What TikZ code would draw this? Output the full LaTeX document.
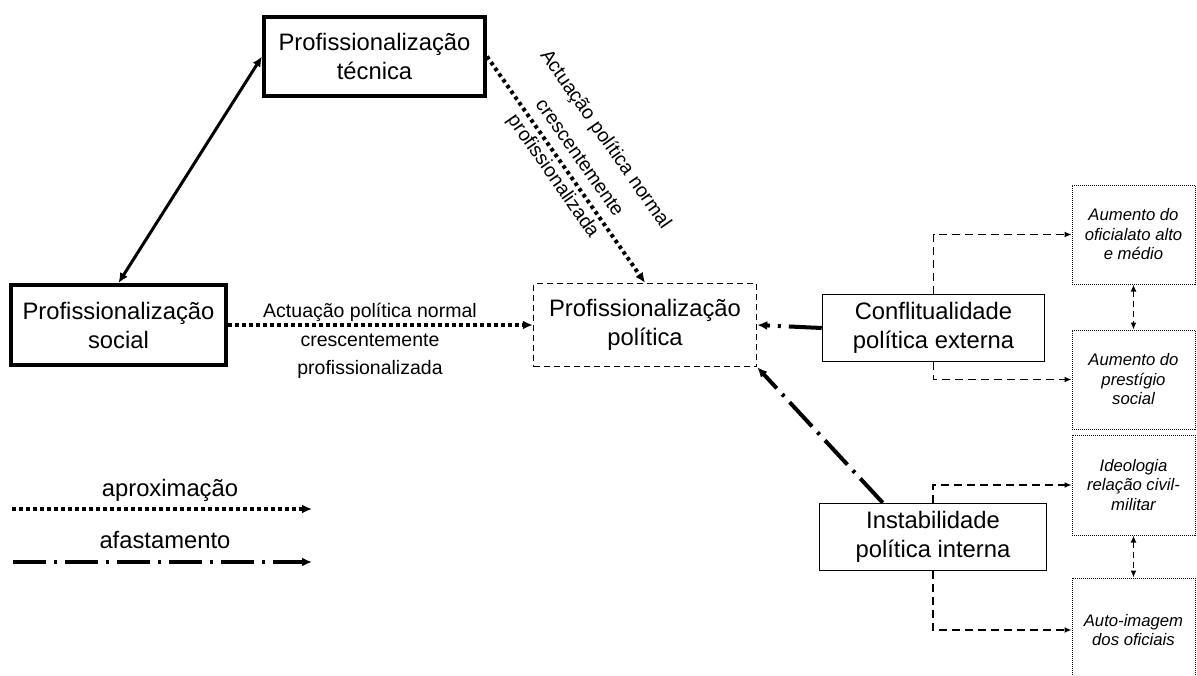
\documentclass[tikz,border=0pt]{standalone}
\usepackage{fontspec}
\setmainfont{Liberation Sans}
\usepackage{tikz}
\usetikzlibrary{positioning}
\usetikzlibrary{arrows.meta,calc}

\tikzset{
  box/.style={draw, align=center, inner sep=0pt, font=\fontsize{23.8}{29}\selectfont},
  thickbox/.style={box, line width=4pt},
  thinbox/.style={box, line width=1.5pt},
  dashbox/.style={box, line width=1.5pt, dash pattern=on 6pt off 4pt},
  effectbox/.style={draw, align=center, inner sep=0pt, line width=1pt, dash pattern=on 1pt off 1pt,
    minimum width=123pt, font=\fontsize{16.7}{19.5}\selectfont\itshape},
  lbl/.style={align=center, font=\fontsize{19.5}{28.5}\selectfont},
  legendtxt/.style={font=\fontsize{23.8}{29}\selectfont},
  bigtip/.style={-{Latex[length=10pt,width=9pt]}},
  approach/.style={bigtip, line width=4pt, dash pattern=on 3.5pt off 3.5pt},
  withdraw/.style={bigtip, line width=4pt, dash pattern=on 33pt off 8pt on 3pt off 8pt},
  link/.style={-{Latex[length=7pt,width=6pt]}, line width=1.5pt, dash pattern=on 8pt off 5pt},
  linkboth/.style={{Latex[length=7pt,width=6pt]}-{Latex[length=7pt,width=6pt]}, line width=1.5pt, dash pattern=on 6pt off 4pt},
}

\begin{document}
\begin{tikzpicture}[x=1pt,y=-1pt]
\path[use as bounding box, clip] (0,0) rectangle (1197,675);

% main boxes
\node[thickbox, minimum width=221pt, minimum height=79pt] (tec) at (374.5,56.5) {Profissionalização\\técnica};
\node[thickbox, minimum width=215pt, minimum height=80pt] (soc) at (118.5,325) {Profissionalização\\social};
\node[dashbox, minimum width=223pt, minimum height=83pt] (pol) at (645,325) {Profissionalização\\política};
\node[thinbox, minimum width=222pt, minimum height=67pt] (con) at (933.5,328) {Conflitualidade\\política externa};
\node[thinbox, minimum width=227pt, minimum height=67pt] (ins) at (933,537) {Instabilidade\\política interna};

% effects
\node[effectbox, minimum height=99pt] (ef1) at (1133.5,234.5) {Aumento do\\oficialato alto\\e médio};
\node[effectbox, minimum height=99pt] (ef2) at (1133.5,379.5) {Aumento do\\prestígio\\social};
\node[effectbox, minimum height=100pt] (ef3) at (1133.5,485) {Ideologia\\relação civil-\\militar};
\node[effectbox, minimum height=104pt] (ef4) at (1133.5,630) {Auto-imagem\\dos oficiais};

% connectors
\draw[line width=3pt, {Latex[length=10pt,width=9pt]}-{Latex[length=10pt,width=9pt]}] (soc.north) -- (tec.west);
\draw[approach] (tec.east) -- (pol.north);
\draw[approach] (soc.east) -- (pol.west);
\draw[withdraw] (con.west) -- (pol.east);
\draw[withdraw] ($(ins.north west)!0.28!(ins.north east)$) -- (pol.south east);

\draw[link] (con.north) |- (ef1.west);
\draw[link] (con.south) |- (ef2.west);
\draw[link] (ins.north) |- (ef3.west);
\draw[link] (ins.south) |- (ef4.west);
\draw[linkboth] (ef1.south) -- (ef2.north);
\draw[linkboth] (ef3.south) -- (ef4.north);

\node[lbl] (lblS) at (370,341) {Actuação política normal\\crescentemente\\profissionalizada};
\node[lbl, font=\fontsize{19.5}{32}\selectfont, rotate=-55] (lblT) at (579,158) {Actuação política normal\\crescentemente\\profissionalizada};

% legend
\coordinate (ap1) at (12,509);
\coordinate (ap2) at (312,509);
\coordinate (af1) at (13,562);
\coordinate (af2) at (312,562);
\node[legendtxt] (apl) at (170,490) {aproximação};
\node[legendtxt] (afl) at (165,540) {afastamento};
\draw[approach] (ap1) -- (ap2);
\draw[withdraw] (af1) -- (af2);
\end{tikzpicture}
\end{document}
